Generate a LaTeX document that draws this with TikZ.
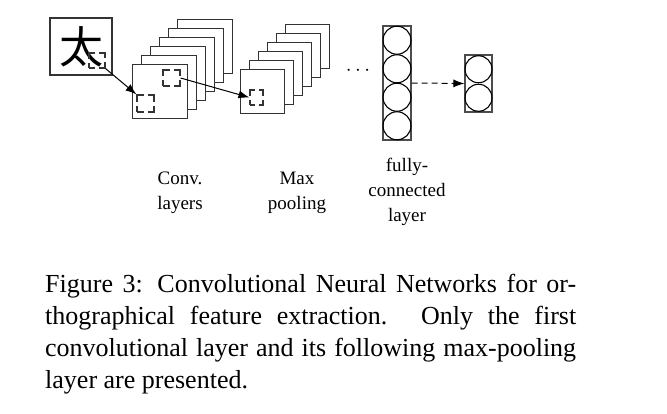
\documentclass[tikz,border=0pt]{standalone}
\usepackage{fontspec}
\setmainfont{Liberation Serif}
\newfontfamily\cjk{Noto Sans CJK SC}
\usetikzlibrary{arrows.meta}
\tikzset{
  layerbox/.style={draw=black!80, fill=white, line width=1.2pt, inner sep=0pt, anchor=north west},
  convbox/.style={layerbox, minimum width=55pt, minimum height=54pt},
  poolbox/.style={layerbox, minimum width=44pt, minimum height=44pt},
  patchbox/.style={draw=black!80, line width=1.1pt, inner sep=0pt},
  neuron/.style={draw=black, circle, line width=1.1pt, inner sep=0pt},
  vecbox/.style={draw=black!70, line width=1.2pt, inner sep=0pt},
  lbl/.style={font=\fontsize{19}{25}\selectfont, align=center, inner sep=0pt, anchor=north},
  conn/.style={line width=1pt, -{Latex[length=11pt,width=8pt]}},
}
\begin{document}
\begin{tikzpicture}[x=1pt,y=-1pt]
\useasboundingbox (0,0) rectangle (667,413);

% input character
\node[draw=black!80, line width=1.2pt, minimum width=62pt, minimum height=57pt, inner sep=0pt,
      font=\cjk\fontsize{44}{44}\selectfont] (chr) at (81,46.5) {\raisebox{-2pt}{太}};
\node[patchbox, minimum width=16pt, minimum height=15pt,
      dash pattern=on 6pt off 4pt on 12pt off 4pt on 11pt off 4pt on 12pt off 4pt on 5pt] (pin) at (97,60.5) {};

% convolution stack
\foreach \i in {5,4,...,0}{
  \node[convbox] (c\i) at ({132+9*\i},{64-9*\i}) {};
}
\node[patchbox, minimum width=17pt, minimum height=17pt,
      dash pattern=on 6.5pt off 4pt on 13pt off 4pt on 13pt off 4pt on 13pt off 4pt on 6.5pt] (pc1) at (145.5,103.5) {};
\node[patchbox, minimum width=17pt, minimum height=16pt,
      dash pattern=on 6.5pt off 4pt on 12.5pt off 4pt on 12.5pt off 4pt on 12.5pt off 4pt on 6pt] (pc2) at (171.5,78) {};

% pooling stack
\foreach \i in {5,4,...,0}{
  \node[poolbox] (p\i) at ({240+9*\i},{69-9*\i}) {};
}
\node[patchbox, minimum width=13pt, minimum height=15pt,
      dash pattern=on 4.5pt off 4pt on 10pt off 4pt on 10pt off 4pt on 10pt off 4pt on 5.5pt] (pp) at (256.5,97.5) {};

% dots
\node[font=\fontsize{21}{21}\selectfont, inner sep=0pt, anchor=base] (dots) at (358,75.5) {$\cdots$};

% fully connected layer
\node[vecbox, minimum width=28pt, minimum height=114pt] (fc) at (397,83) {};
\foreach \k in {1,...,4}{
  \node[neuron, minimum size=28pt] (fc\k) at (397,{40.25+28.5*(\k-1)}) {};
}
% output layer
\node[vecbox, minimum width=27pt, minimum height=57pt] (out) at (478.5,83.5) {};
\node[neuron, minimum size=27pt] (o1) at (478.5,69.25) {};
\node[neuron, minimum size=27pt] (o2) at (478.5,97.75) {};

% connectors
\draw[conn] (pin.south east) -- (pc1.north west);
\draw[conn] (pc2.east) -- (pp.west);
\draw[conn, dash pattern=on 6pt off 4pt] (fc.east) -- (out.west);

% labels
\node[lbl] (lconv) at (180,172) {Conv.\\layers};
\node[lbl] (lpool) at (297,172) {Max\\pooling};
\node[lbl] (lfc) at (407,158) {fully-\\connected\\layer};

% caption
\node[anchor=north west, inner sep=0pt, text width=531pt, align=justify,
      font=\fontsize{26}{32}\selectfont] (cap) at (45,274)
{\tolerance=10000\hbadness=10000 Figure 3: Convolutional Neural Networks for or-\linebreak
thographical feature extraction.  Only the first\linebreak
convolutional layer and its following max-pooling\linebreak
layer are presented.};
\end{tikzpicture}
\end{document}
